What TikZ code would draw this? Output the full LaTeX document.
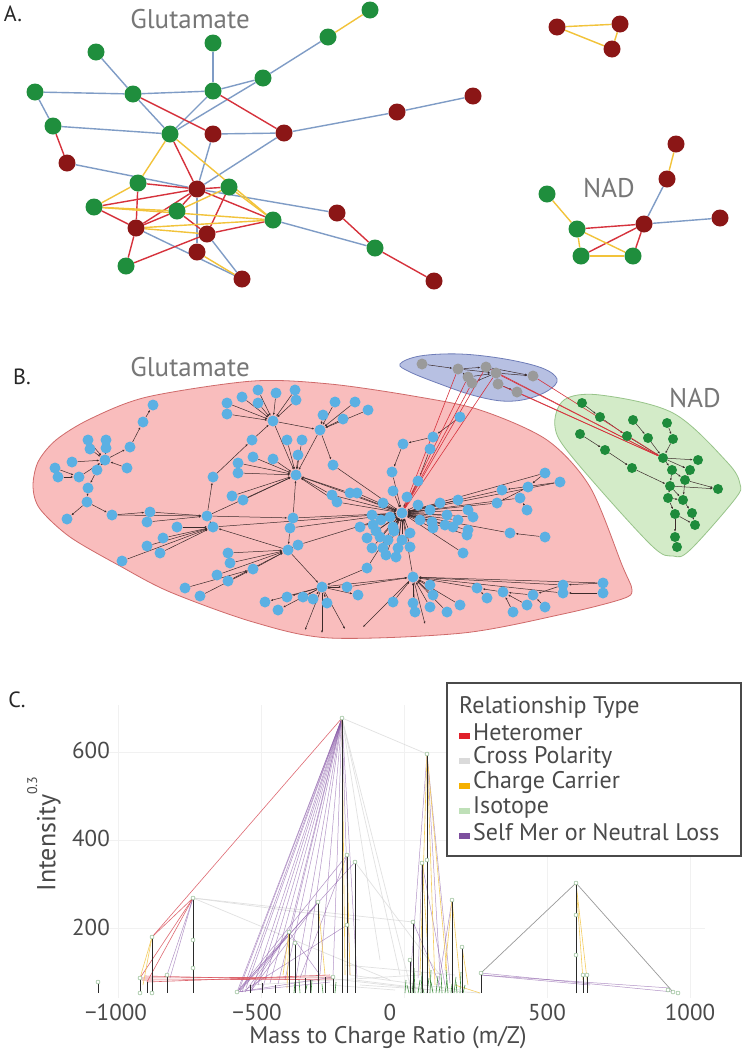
\documentclass[tikz,border=0pt]{standalone}
\usepackage{fontspec}
\setmainfont{PT Sans}
\usetikzlibrary{arrows.meta}
\definecolor{agreen}{HTML}{1F8E3D}
\definecolor{ared}{HTML}{8B1616}
\definecolor{eblue}{HTML}{7F9CC6}
\definecolor{ered}{HTML}{D6323C}
\definecolor{eyel}{HTML}{F2C33A}
\definecolor{pinkf}{HTML}{F9BDBD}
\definecolor{pinkd}{HTML}{CF6A6A}
\definecolor{bluef}{HTML}{B7C0E2}
\definecolor{blued}{HTML}{6F7DB8}
\definecolor{greenf}{HTML}{D3EBC8}
\definecolor{greend}{HTML}{98C48A}
\definecolor{bnodec}{HTML}{5BB0E3}
\definecolor{gnodec}{HTML}{9A9A9A}
\definecolor{nnodec}{HTML}{1E8B3B}
\definecolor{bedgec}{HTML}{3B2B2B}
\definecolor{txtgrey}{HTML}{777777}
\definecolor{axgrey}{HTML}{4A4A4A}
\definecolor{cpurple}{HTML}{8A5AA8}
\definecolor{cred}{HTML}{D9505A}
\definecolor{cyel}{HTML}{F3C74E}
\definecolor{cgrey}{HTML}{DADADA}
\definecolor{cgreyd}{HTML}{9A9A9A}
\definecolor{cgreen}{HTML}{3C8C3C}
\definecolor{cblack}{HTML}{2A2A2A}
\definecolor{cgrid}{HTML}{F1F1F1}
\definecolor{legred}{HTML}{E0202A}
\definecolor{legyel}{HTML}{F5B000}
\definecolor{leggrn}{HTML}{BFE0B8}
\definecolor{legpur}{HTML}{7D4F9E}
\pgfdeclarelayer{bg}\pgfdeclarelayer{edges}\pgfsetlayers{bg,edges,main}
\tikzset{
  ag/.style={circle,fill=agreen,minimum size=17pt,inner sep=0pt},
  ar/.style={circle,fill=ared,minimum size=17pt,inner sep=0pt},
  be/.style={draw=eblue,line width=1.4pt},
  re/.style={draw=ered,line width=1.4pt},
  ye/.style={draw=eyel,line width=1.4pt},
  bnode/.style={circle,fill=bnodec,minimum size=11pt,inner sep=0pt},
  gnode/.style={circle,fill=gnodec,minimum size=11pt,inner sep=0pt},
  nnode/.style={circle,fill=nnodec,minimum size=10pt,inner sep=0pt},
  bedge/.style={draw=bedgec,line width=0.5pt,-{Latex[length=2.4pt,width=2pt]}},
  redge/.style={draw=ered,line width=0.6pt},
  lbl/.style={font=\fontsize{27}{27}\selectfont,text=txtgrey,inner sep=0pt},
  plbl/.style={font=\fontsize{22}{22}\selectfont,text=black!85,inner sep=0pt},
  tick/.style={font=\fontsize{23}{23}\selectfont,text=axgrey,inner sep=0pt},
  axl/.style={font=\fontsize{24}{24}\selectfont,text=axgrey,inner sep=0pt},
  leg/.style={font=\fontsize{24}{24}\selectfont,text=axgrey,inner sep=0pt,anchor=west},
  cpt/.style={circle,draw=cgreyd!80!green,fill=white,minimum size=4pt,inner sep=0pt,line width=0.4pt},
  pl/.style={draw=cpurple,line width=0.5pt,opacity=0.65},
  rl/.style={draw=cred,line width=0.6pt,opacity=0.85},
  yl/.style={draw=cyel,line width=0.6pt,opacity=0.9},
  gl/.style={draw=cgrey,line width=0.7pt,opacity=0.8},
  kl/.style={draw=cblack,line width=0.9pt},
  grl/.style={draw=cgreen,line width=0.6pt}
}
\begin{document}
\begin{tikzpicture}[x=1pt,y=-1pt]
\useasboundingbox (0,0) rectangle (744,1050);
\begin{pgfonlayer}{bg}
\fill[white] (0,0) rectangle (744,1050);
\end{pgfonlayer}

% ---------------- Panel A ----------------
\node[plbl] (labA) at (13,14) {A.};
\node[lbl] (gluA) at (190,19) {Glutamate};
\node[lbl] (nadA) at (609,188) {NAD};
\foreach \n/\x/\y in {ag1/370/10, ag2/328/37, ag3/213/43, ag4/96/52, ag5/263/78, ag6/35/92, ag7/133/94, ag8/213/91, ag9/53/126, ag10/170/134, ag11/138/183, ag12/229/187, ag13/94/207, ag14/177/211, ag15/273/220, ag16/375/248, ag17/126/266, ang1/547/194, ang2/577/229, ang3/581/256, ang4/633/256}
  {\node[ag] (\n) at (\x,\y) {};}
\foreach \n/\x/\y in {ar1/473/96, ar2/397/112, ar3/213/134, ar4/284/133, ar5/67/163, ar6/197/189, ar7/337/213, ar8/136/228, ar9/207/234, ar10/197/252, ar11/242/279, ar12/434/281, at1/557/27, at2/620/24, at3/612/49, an1/676/144, an2/667/179, an3/644/224, an4/720/218}
  {\node[ar] (\n) at (\x,\y) {};}
\begin{pgfonlayer}{edges}
\foreach \a/\b in {ag2/ag5, ag5/ag8, ag5/ag10, ag3/ag8, ag4/ag7, ag6/ag7, ag7/ag8, ag6/ag9, ag7/ag10, ag8/ag10, ag9/ag10, ar3/ar4, ar4/ar2, ar2/ar1, ar5/ar6, ar4/ar6, ar3/ar6, ar6/ar10, ar6/ar7, ag15/ag16, ar8/ar11, ar9/ar11, an2/an3, an3/an4}
  {\draw[be] (\a) -- (\b);}
\foreach \a/\b in {ag7/ar3, ag8/ar4, ag9/ar5, ag10/ar6, ar6/ag11, ar6/ag12, ar6/ag13, ar6/ag15, ar6/ar8, ag12/ar9, ar7/ag16, ag16/ar12, ag13/ar8, ag11/ar8, ar8/ag14, ar8/ag17, ag17/ar9, ar9/ag15, ag14/ar9, ar6/ag14, ang2/an3, ang3/an3, ang4/an3}
  {\draw[re] (\a) -- (\b);}
\foreach \a/\b in {ag1/ag2, ag10/ag11, ag10/ag15, ag13/ag11, ag12/ag15, ag13/ag14, ag13/ag15, ar8/ar9, ar8/ag15, ar10/ar11, ag14/ag12, at1/at2, at1/at3, at2/at3, an1/an2, ang1/ang2, ang2/ang3, ang2/ang4, ang3/ang4}
  {\draw[ye] (\a) -- (\b);}
\end{pgfonlayer}

% ---------------- Panel B ----------------
\node[plbl] (labB) at (22,377) {B.};
\node[lbl] (gluB) at (190,367) {Glutamate};
\node[lbl] (nadB) at (695,398) {NAD};
\begin{pgfonlayer}{bg}
\draw[pinkd,fill=pinkf,line width=0.8pt] plot[smooth cycle,tension=0.5] coordinates {(33,487) (38,462) (56,440) (90,419) (147,397) (253,381) (330,384) (413,396) (480,410) (547,440) (590,487) (622,565) (632,590) (622,599) (563,614) (463,633) (330,638) (253,622) (170,592) (120,566) (70,537) (40,509)};
\draw[blued,fill=bluef,line width=0.8pt] plot[smooth cycle,tension=0.6] coordinates {(400,364) (420,356) (460,354) (505,359) (542,368) (557,379) (549,390) (527,399) (502,401) (472,395) (440,384) (410,372)};
\draw[greend,fill=greenf,line width=0.8pt] plot[smooth cycle,tension=0.55] coordinates {(555,427) (564,400) (600,395) (673,413) (727,462) (740,484) (735,499) (690,550) (673,556) (650,544) (573,458)};
\end{pgfonlayer}
\foreach \n/\x/\y in {L1/153/405, L2/143/422, L3/130/447, L4/88/440, L5/106/440, L6/90/449, L7/106/448, L8/105/460, L9/97/470, L10/127/468, L11/72/462, L12/55/468, L13/58/477, L14/79/477, L15/88/488, L16/87/502, L17/67/519, L18/112/515,
 M1/150/512, M2/147/522, M3/177/527, M4/163/538, M5/147/546, M6/160/553, M7/122/561, M8/207/516, M9/213/527,
 U1/213/477, U2/232/496, U3/243/500, U4/238/463, U5/238/473, U6/253/457, U7/273/459, U8/296/475, U9/298/455, U10/287/440, U11/302/440, U12/252/440, U13/273/421, U14/227/403, U15/227/414, U16/242/397, U17/258/390, U18/258/403, U19/276/393, U20/295/390, U21/296/400, U22/320/430, U23/323/415, U24/335/402, U26/355/402, U27/368/410, U28/343/419, U29/333/465, U30/332/495, U31/337/502,
 C0/402/513, C1/383/503, C2/393/491, C3/407/497, C4/418/481, C5/392/472, C6/403/444, C7/433/437, C8/460/417, C9/430/449, C10/350/493, C11/357/493, C13/360/527, C14/373/525, C15/393/527, C16/367/538, C17/380/537, C18/388/540, C19/402/540, C20/383/548, C21/398/548, C22/410/547, C23/410/533, C24/430/510, C25/440/503, C26/458/500, C27/468/510, C28/473/517, C29/447/515, C30/432/522, C31/453/527, C32/468/530, C33/467/535, C34/433/528, C35/463/553, C36/510/533, C37/545/537, C38/497/503, C39/528/487, C40/545/473, C41/502/490, C42/560/482, C43/520/498, C44/527/510,
 K1/372/515, K2/381/520, K3/390/517, K4/394/531, K5/376/531, K6/386/555, K7/396/557, K8/372/548, K9/420/520, K10/418/505, K11/445/525, K12/458/520,
 D0/288/550, D1/298/545, D2/228/553, D3/230/563, D4/253/569, D5/217/575, D6/228/581, D7/185/588, D8/200/596, D9/322/587, D10/265/602, D11/278/610, D12/287/597, D13/303/597, D14/313/599, D15/327/603, D16/347/587, D17/358/595, D18/367/568, D20/293/518, D21/290/528,
 E0/413/577, E1/430/585, E2/433/595, E3/393/602, E4/413/603, E5/430/607, E6/447/612, E7/460/605, E8/415/612, E9/477/588, E10/503/592, E11/533/595, E12/563/585, E13/603/583, E14/487/598, E15/513/612, E16/527/605, E17/545/607, E18/563/593, E19/603/593}
  {\node[bnode] (\n) at (\x,\y) {};}
\foreach \n/\x/\y in {G1/422/364, G2/458/369, G3/486/367, G4/496/373, G5/533/376, G6/468/377, G7/472/383, G8/498/384, G9/517/392}
  {\node[gnode] (\n) at (\x,\y) {};}
\foreach \n/\x/\y in {N1/582/403, N2/600/417, N3/633/420, N4/667/423, N5/580/434, N6/627/436, N7/648/438, N8/673/439, N9/605/450, N10/663/458, N11/698/460, N12/632/468, N13/672/470, N14/690/470, N15/685/480, N16/670/486, N17/718/489, N18/668/498, N19/683/500, N20/692/513, N21/675/514, N22/695/525, N23/675/537, N24/677/547}
  {\node[nnode] (\n) at (\x,\y) {};}
\foreach \n/\x/\y in {Z1/305/630, Z2/322/633, Z3/345/629, Z4/363/627, Z5/425/624}
  {\coordinate (\n) at (\x,\y);}
\begin{pgfonlayer}{edges}
\foreach \a/\b in {L2/L1, L3/L2, L8/L3, L4/L8, L5/L8, L6/L8, L7/L8, L10/L8, L11/L8, L12/L14, L13/L14, L14/L8, L8/L9, L9/L15, L15/L16, L16/L17, L16/L18, L18/M1, L18/M8, M1/M8, M2/M8, M3/M9, M4/M9, M5/M9, M6/M9, M7/M9, M9/M8, M8/U1, U1/U12, U12/U13, U2/U8, U3/U8, U4/U8, U5/U8, U6/U8, U7/U8, U9/U8, U10/U8, U11/U8, U13/U8, U22/U8, U14/U13, U15/U13, U16/U13, U17/U13, U18/U13, U19/U13, U20/U13, U21/U13, U13/U22, U23/U22, U24/U22, U26/U22, U27/U22, U28/U22, U22/U29, U30/U8, U31/U8, M8/U8, M9/C0, U8/C0, U29/C0, M8/D20,
 C1/C0, C2/C0, C3/C0, C4/C0, C5/C0, C6/C5, C7/C6, C8/C7, C9/C4, C10/C0, C11/C0, C13/C0, C14/C0, C15/C0, C16/C0, C17/C0, C18/C0, C19/C0, C20/C0, C21/C0, C22/C0, C23/C0, C24/C0, C25/C0, C26/C0, C27/C0, C28/C0, C29/C0, C30/C0, C31/C0, C32/C0, C33/C0, C34/C0, C35/C0, C36/C0, C37/C36, C38/C0, C39/C38, C40/C39, C41/C0, C42/C41, C43/C0, C44/C43, C40/C0, C42/C0,
 K1/C0, K2/C0, K3/C0, K4/C0, K5/C0, K6/C0, K7/C0, K8/C0, K9/C0, K10/C0, K11/C0, K12/C0, U31/C0, U30/C0, C10/U8,
 D20/C0, D21/C0, D20/U8, D21/D0, D1/D0, D2/D0, D3/D0, D4/D0, D5/D0, D6/D0, D7/D4, D8/D4, D0/D9, D1/C0, D9/D10, D9/D11, D9/D12, D9/D13, D9/D14, D9/D15, D9/D16, D9/D17, D18/C0, D18/D9, D16/E0, D0/M9,
 E0/C0, E1/E0, E2/E0, E3/E0, E4/E0, E5/E0, E6/E0, E7/E0, E8/E0, E9/E0, E10/E9, E11/E10, E12/E11, E13/E12, E14/E9, E15/E10, E16/E10, E17/E11, E18/E0, E19/E18, E12/E0, E13/E0, D9/E0, D9/Z1, D9/Z2, D9/Z3, E0/Z4, E0/Z5,
 G1/G2, G2/G3, G3/G5, G4/G5, G6/G2, G7/G6, G4/G7, G8/G9, G4/G8, G2/G4, G6/G4, G3/G4,
 N1/N2, N2/N6, N6/N10, N3/N7, N7/N10, N4/N8, N8/N10, N5/N9, N9/N12, N12/N16, N10/N13, N10/N11, N10/N14, N13/N16, N14/N15, N15/N17, N16/N17, N16/N18, N13/N15, N15/N19, N18/N19, N18/N21, N19/N20, N20/N22, N21/N22, N21/N23, N23/N24, N16/N19}
  {\draw[bedge] (\a) -- (\b);}
\foreach \a/\b in {G2/C0, G6/C0, G7/C0, G4/C0, G3/C0, G3/N10, G4/N10, G8/N10, G9/N10, G5/N10}
  {\draw[redge] (\a) -- (\b);}
\end{pgfonlayer}

% ---------------- Panel C ----------------
\node[plbl] (labC) at (17,700) {C.};
% grid
\foreach \yy in {752,840,928} {\draw[cgrid,line width=0.8pt] (100,\yy) -- (705,\yy);}
\foreach \xx in {118,261,404,547,690} {\draw[cgrid,line width=0.8pt] (\xx,705) -- (\xx,998);}
% tick labels
\node[tick] (t600) at (91,750) {600};
\node[tick] (t400) at (91,838) {400};
\node[tick] (t200) at (91,927) {200};
\node[tick] (tm1000) at (116,1012) {−1000};
\node[tick] (tm500) at (257,1012) {−500};
\node[tick] (t0) at (390,1012) {0};
\node[tick] (t500) at (547,1012) {500};
\node[tick] (t1000) at (690,1012) {1000};
\node[axl] (xlab) at (388,1038) {Mass to Charge Ratio (m/Z)};
\node[axl,font=\fontsize{26}{26}\selectfont,rotate=90] (ylab) at (44,834) {Intensity\raisebox{0.7em}{\fontsize{14}{14}\selectfont 0.3}};
% cross polarity (grey)
\foreach \xa/\ya/\xb/\yb in {342/718/427/754, 342/718/410/985, 342/718/400/975, 193/898/413/922, 193/898/360/920, 350/975/460/990, 355/980/420/988, 345/965/455/975, 355/862/440/975, 360/985/480/993, 330/985/395/990, 342/718/380/960, 193/898/390/980, 250/985/420/975, 300/975/430/990}
  {\draw[gl] (\xa,\ya) -- (\xb,\yb);}
% purple
\foreach \xa/\ya in {237/992, 239/990, 242/992, 246/988, 252/990, 258/985, 263/987, 270/983, 278/984, 285/980, 296/978, 305/975, 320/974, 333/977, 350/975, 357/978, 289/932}
  {\draw[pl] (\xa,\ya) -- (342,718);}
\foreach \xa/\ya/\xb/\yb in {237/992/347/855, 237/992/355/862, 240/990/289/932, 245/992/289/932, 250/990/289/932, 238/992/333/977, 236/992/330/982, 193/898/167/975, 193/898/170/978, 289/932/320/975, 347/925/245/990, 318/902/250/992, 347/855/300/978, 240/991/318/902,
  427/754/410/983, 427/754/440/975, 427/754/450/983, 422/863/418/978, 422/863/445/985, 452/900/438/987, 413/922/440/985,
  481/973/673/992, 481/975/670/988, 481/975/590/985}
  {\draw[pl] (\xa,\ya) -- (\xb,\yb);}
% red
\foreach \xa/\ya/\xb/\yb in {342/718/152/937, 152/937/193/898, 140/978/193/898, 147/982/193/898, 140/978/333/977, 142/980/333/979, 147/982/330/975, 145/976/320/980}
  {\draw[rl] (\xa,\ya) -- (\xb,\yb);}
% yellow
\foreach \xa/\ya/\xb/\yb in {152/937/140/978, 152/937/143/985, 289/932/283/975, 289/932/287/988, 318/902/325/975, 342/720/345/975, 347/855/350/975,
  427/754/420/975, 427/754/435/985, 427/754/447/973, 452/900/445/970, 452/900/460/980, 462/947/468/985, 422/863/430/980,
  576/883/583/980, 576/883/588/988, 455/985/480/993}
  {\draw[yl] (\xa,\ya) -- (\xb,\yb);}
% triangle
\draw[draw=cgreyd,line width=0.7pt] (481,973) -- (576,883) -- (673,992);
% green isotope short lines
\foreach \xx/\dx/\yt in {412/2/975, 415/-1/968, 418/2/980, 421/1/972, 424/-2/985, 427/2/978, 430/1/970, 433/-2/982, 436/2/976, 439/1/986, 442/-1/974, 445/2/980, 448/-2/970, 451/1/984, 454/2/977, 457/-1/982, 460/1/972, 463/2/985, 294/1/982, 300/-1/980, 305/2/985, 311/1/980, 323/-1/984, 335/1/982, 405/1/980, 409/-2/985, 576/0/955, 576/0/915}
  {\draw[grl] (\xx,993) -- (\xx+\dx,\yt);}
% black sticks
\foreach \xx/\yt in {98/982, 140/978, 147/982, 152/937, 167/975, 193/898, 289/932, 295/943, 318/902, 342/718, 347/855, 355/862, 250/985, 262/983, 275/985, 305/978, 310/980, 325/977, 333/977, 413/922, 422/863, 427/754, 452/900, 462/947, 410/960, 481/973, 576/883, 583/975, 587/975}
  {\draw[kl] (\xx,\yt) -- (\xx,993);}
% points
\foreach \xx/\yy in {342/718, 193/898, 152/937, 427/754, 422/863, 413/922, 452/900, 462/947, 576/883, 481/973, 673/992, 678/993, 668/990, 289/932, 295/943, 318/902, 347/855, 355/862, 347/925, 98/982, 140/978, 167/975, 193/968, 193/940, 237/992, 333/977, 583/975, 587/975, 576/955, 576/915, 140/993, 152/993, 427/860, 410/960}
  {\node[cpt] at (\xx,\yy) {};}
% legend
\draw[draw=axgrey,line width=1.2pt,fill=white] (447,683) rectangle (741,856);
\node[leg] (lt) at (459,707) {Relationship Type};
\foreach \c/\t/\yy in {legred/Heteromer/732, cgrey/Cross Polarity/757, legyel/Charge Carrier/782, leggrn/Isotope/807, legpur/Self Mer or Neutral Loss/832}
  {\fill[\c] (459,\yy+0.5) rectangle (470,\yy+6.5);
   \node[leg] at (473,\yy) {\t};}
\end{tikzpicture}
\end{document}
